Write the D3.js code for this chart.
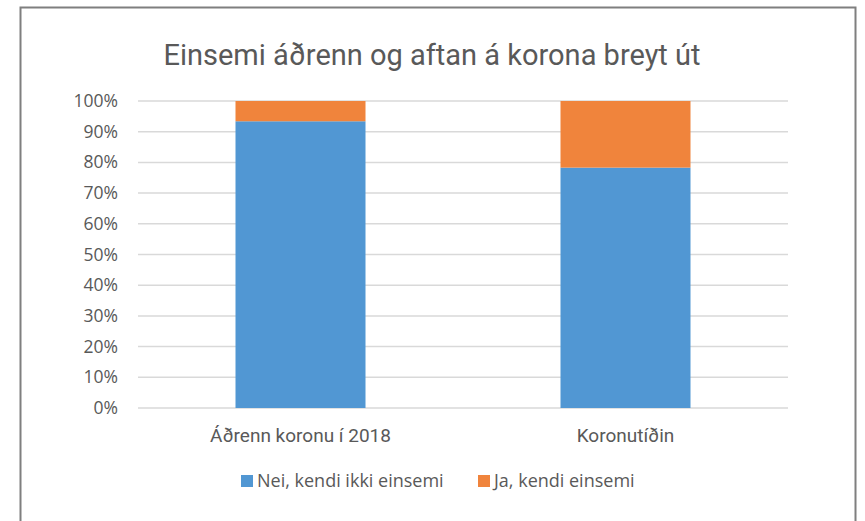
<!DOCTYPE html>
<html>
<head>
<meta charset="utf-8">
<script src="https://cdn.jsdelivr.net/npm/d3@7"></script>
<style>
  body { margin: 0; background: #fff; }
  text { fill: #595959; }
</style>
</head>
<body>
<svg id="chart" width="865" height="521"></svg>
<script>
var categories = ["Áðrenn koronu í 2018", "Koronutíðin"];
var seriesNames = ["Nei, kendi ikki einsemi", "Ja, kendi einsemi"];
var nei = [93.4, 78.3];
var ja = [6.6, 21.7];
var colors = ["#5197d3", "#f0843c"];
var yTicks = [0, 10, 20, 30, 40, 50, 60, 70, 80, 90, 100];

var svg = d3.select("#chart");

// frame round the chart
svg.append("rect")
  .attr("x", 20.5).attr("y", 7.5)
  .attr("width", 835).attr("height", 530)
  .style("fill", "none")
  .style("stroke", "#7f7f7f")
  .style("stroke-width", 2);

svg.append("text")
  .attr("x", 432).attr("y", 65)
  .attr("text-anchor", "middle")
  .style("font-family", "Roboto")
  .style("font-size", "29px")
  .text("Einsemi áðrenn og aftan á korona breyt út");

var x = d3.scaleBand().domain(categories).range([138, 788]).paddingInner(0.6).paddingOuter(0.3);
var y = d3.scaleLinear().domain([0, 100]).range([408, 101]);

svg.selectAll("line.grid").data(yTicks).enter().append("line")
  .attr("class", "grid")
  .attr("x1", 138).attr("x2", 788)
  .attr("y1", function(d) { return y(d); })
  .attr("y2", function(d) { return y(d); })
  .style("stroke", "#d9d9d9")
  .style("stroke-width", 1.5);

svg.selectAll("text.ytick").data(yTicks).enter().append("text")
  .attr("class", "ytick")
  .attr("x", 118)
  .attr("y", function(d) { return y(d) + 6; })
  .attr("text-anchor", "end")
  .style("font-family", "Open Sans")
  .style("font-size", "17.5px")
  .text(function(d) { return d + "%"; });

var stacked = categories.map(function(c, i) {
  return [
    {cat: c, y0: 0, y1: nei[i], color: colors[0]},
    {cat: c, y0: nei[i], y1: nei[i] + ja[i], color: colors[1]}
  ];
});
svg.selectAll("rect.bar").data(d3.merge(stacked)).enter().append("rect")
  .attr("class", "bar")
  .attr("x", function(d) { return x(d.cat); })
  .attr("width", x.bandwidth())
  .attr("y", function(d) { return y(d.y1); })
  .attr("height", function(d) { return y(d.y0) - y(d.y1); })
  .style("fill", function(d) { return d.color; });

svg.selectAll("text.xtick").data(categories).enter().append("text")
  .attr("class", "xtick")
  .attr("x", function(d) { return x(d) + x.bandwidth() / 2; })
  .attr("y", 442)
  .attr("text-anchor", "middle")
  .style("font-family", "Roboto")
  .style("font-size", "19px")
  .text(function(d) { return d; });

var legendX = [241, 478];
var lg = svg.selectAll("g.legend").data(seriesNames).enter().append("g")
  .attr("class", "legend")
  .attr("transform", function(d, i) { return "translate(" + legendX[i] + ",0)"; });
lg.append("rect")
  .attr("x", 0).attr("y", 475)
  .attr("width", 12).attr("height", 12)
  .style("fill", function(d, i) { return colors[i]; });
lg.append("text")
  .attr("x", 16).attr("y", 487)
  .style("font-family", "Open Sans")
  .style("font-size", "18px")
  .text(function(d) { return d; });
</script>
</body>
</html>
